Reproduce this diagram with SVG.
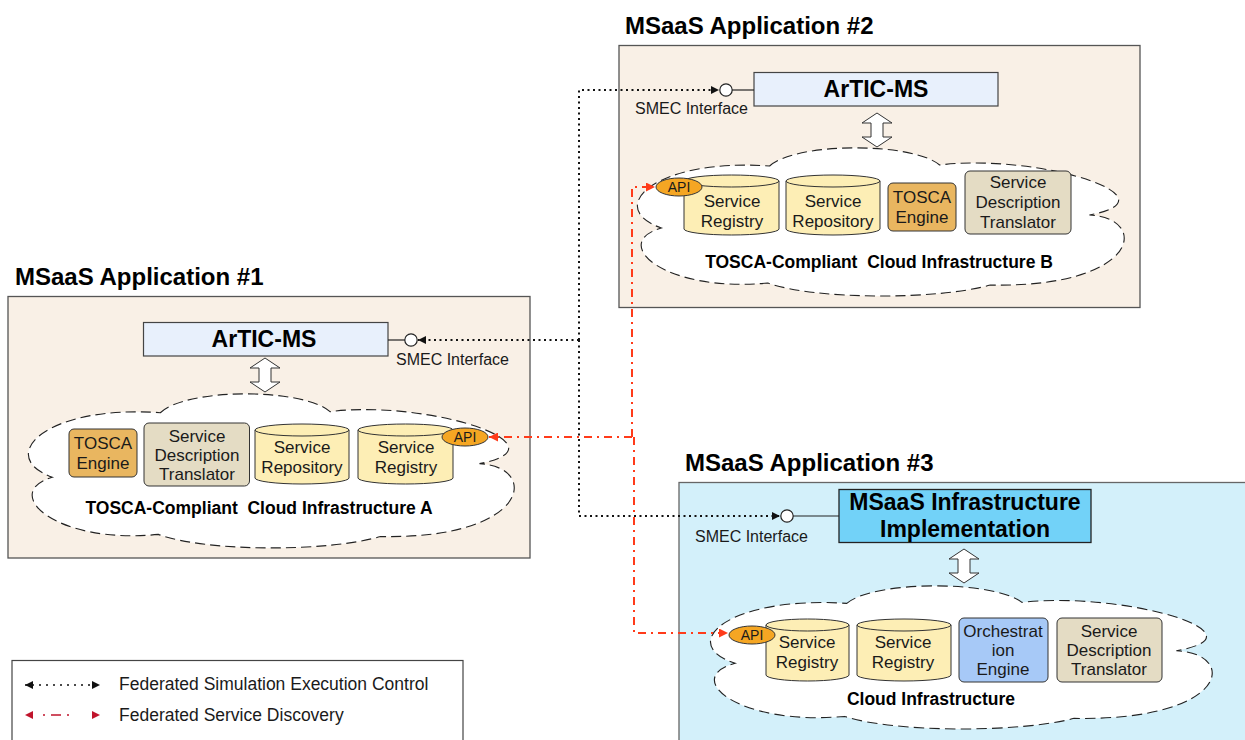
<svg xmlns="http://www.w3.org/2000/svg" width="1245" height="740" viewBox="0 0 1245 740">
<style>
text{font-family:"Liberation Sans",Arial,Helvetica,sans-serif;fill:#1a1a1a}
.title{font-size:24px;font-weight:bold;fill:#000}
.frameA{fill:#f9f0e6;stroke:#555;stroke-width:1.3}
.frameC{fill:#d3f0fa;stroke:#666;stroke-width:1.3}
.cloud{fill:#fff;stroke:#222;stroke-width:1.1;stroke-dasharray:10 5}
.cyl{fill:#fdeeb5;stroke:#333;stroke-width:1}
.tosca{fill:#e9b660;stroke:#333;stroke-width:1}
.sdt{fill:#e4dcc4;stroke:#333;stroke-width:1}
.orch{fill:#a7c9f7;stroke:#333;stroke-width:1}
.api{fill:#f5a623;stroke:#333;stroke-width:1}
.artic{fill:#e8f0fc;stroke:#444;stroke-width:1.2}
.infra{fill:#72d2f8;stroke:#222;stroke-width:1.3}
.lbl{font-size:17px;text-anchor:middle}
.big{font-size:23px;font-weight:bold;text-anchor:middle;fill:#000}
.cl{font-size:17.5px;font-weight:bold;text-anchor:middle;white-space:pre;fill:#000}
.smec{font-size:16px}
.apit{font-size:14px;text-anchor:middle}
.circ{fill:#fff;stroke:#222;stroke-width:1.2}
.stub{stroke:#222;stroke-width:1.2;fill:none}
.darr{fill:#fff;stroke:#333;stroke-width:1}
.blk{fill:none;stroke:#111;stroke-width:2;stroke-dasharray:2 3.5}
.red{fill:none;stroke:#ff3b1a;stroke-width:2;stroke-dasharray:8 5 2 5}
.leg{font-size:17.5px}
</style>
<defs>
<marker id="ab" viewBox="0 0 10 10" refX="10" refY="5" markerWidth="11" markerHeight="8" markerUnits="userSpaceOnUse" orient="auto"><path d="M0,0 L10,5 L0,10 Z" fill="#111"/></marker>
<marker id="ar" viewBox="0 0 10 10" refX="10" refY="5" markerWidth="11" markerHeight="9" markerUnits="userSpaceOnUse" orient="auto"><path d="M0,0 L10,5 L0,10 Z" fill="#ff3b1a"/></marker>
<marker id="lb" viewBox="0 0 10 10" refX="10" refY="5" markerWidth="11" markerHeight="8" markerUnits="userSpaceOnUse" orient="auto-start-reverse"><path d="M0,0 L10,5 L0,10 Z" fill="#111"/></marker>
<marker id="lr" viewBox="0 0 10 10" refX="10" refY="5" markerWidth="13" markerHeight="8" markerUnits="userSpaceOnUse" orient="auto-start-reverse"><path d="M0,0 L10,5 L0,10 Z" fill="#c0142c"/></marker>
<path id="cloudshape" d="M134,18 C160,-6 275,-6 302,17 C400,5 540,50 450,67 C510,70 500,140 352,137 C300,152 180,152 132,135 C30,145 -25,95 27,80 C-30,60 20,10 134,18 Z"/>
<path id="dbl" d="M0,0 L15,10 L6,10 L6,24 L15,24 L0,34 L-15,24 L-6,24 L-6,10 L-15,10 Z"/>
</defs>

<rect width="1245" height="740" fill="#fff"/>

<!-- Application #2 -->
<g id="app2">
<text class="title" x="625" y="34">MSaaS Application #2</text>
<rect class="frameA" x="619" y="45.5" width="521" height="262"/>
<g id="app2-cloud"><use href="#cloudshape" class="cloud" transform="translate(634,148) scale(1.012,1)" vector-effect="non-scaling-stroke"/>
<text class="cl" x="879" y="268">TOSCA-Compliant  Cloud Infrastructure B</text></g>
<g id="app2-artic"><rect class="artic" x="754" y="72.5" width="244" height="33.5"/><text class="big" x="876" y="97">ArTIC-MS</text></g>
<g id="app2-smec"><line class="stub" x1="732" y1="90" x2="754" y2="90"/><circle class="circ" cx="726" cy="90" r="6.2"/><text class="smec" x="635" y="114">SMEC Interface</text></g>
<use href="#dbl" class="darr" x="877" y="113"/>
<g id="app2-registry"><path class="cyl" d="M684,181 V229 A47.5,6 0 0 0 779,229 V181 Z"/><ellipse class="cyl" cx="731.5" cy="181" rx="47.5" ry="6"/>
<text class="lbl" x="732" y="207">Service</text><text class="lbl" x="732" y="227">Registry</text></g>
<g id="app2-api"><ellipse class="api" cx="679" cy="187" rx="23" ry="9"/><text class="apit" x="679" y="192">API</text></g>
<g id="app2-repository"><path class="cyl" d="M786,181 V229 A47,6 0 0 0 880,229 V181 Z"/><ellipse class="cyl" cx="833" cy="181" rx="47" ry="6"/>
<text class="lbl" x="833" y="207">Service</text><text class="lbl" x="833" y="227">Repository</text></g>
<g id="app2-tosca"><rect class="tosca" x="888" y="183" width="68" height="48" rx="5"/><text class="lbl" x="922" y="203">TOSCA</text><text class="lbl" x="922" y="223">Engine</text></g>
<g id="app2-sdt"><rect class="sdt" x="965" y="171" width="106" height="63" rx="5"/><text class="lbl" x="1018" y="188">Service</text><text class="lbl" x="1018" y="208">Description</text><text class="lbl" x="1018" y="228">Translator</text></g>
</g>

<!-- Application #1 -->
<g id="app1">
<text class="title" x="15" y="285">MSaaS Application #1</text>
<rect class="frameA" x="8" y="296.5" width="522" height="261.5"/>
<g id="app1-cloud"><use href="#cloudshape" class="cloud" transform="translate(25,394) scale(1.01,1.04)" vector-effect="non-scaling-stroke"/>
<text class="cl" x="259" y="514">TOSCA-Compliant  Cloud Infrastructure A</text></g>
<g id="app1-artic"><rect class="artic" x="143.5" y="322.5" width="244.5" height="33.5"/><text class="big" x="264" y="347">ArTIC-MS</text></g>
<g id="app1-smec"><line class="stub" x1="388" y1="340" x2="405" y2="340"/><circle class="circ" cx="411" cy="340" r="6.2"/><text class="smec" x="396" y="365">SMEC Interface</text></g>
<use href="#dbl" class="darr" x="265" y="358"/>
<g id="app1-tosca"><rect class="tosca" x="69" y="429" width="68" height="48" rx="5"/><text class="lbl" x="103" y="449">TOSCA</text><text class="lbl" x="103" y="469">Engine</text></g>
<g id="app1-sdt"><rect class="sdt" x="144" y="423" width="105.5" height="63" rx="5"/><text class="lbl" x="197" y="442">Service</text><text class="lbl" x="197" y="461">Description</text><text class="lbl" x="197" y="480">Translator</text></g>
<g id="app1-repository"><path class="cyl" d="M255,430 V478 A47,6 0 0 0 349,478 V430 Z"/><ellipse class="cyl" cx="302" cy="430" rx="47" ry="6"/>
<text class="lbl" x="302" y="453">Service</text><text class="lbl" x="302" y="473">Repository</text></g>
<g id="app1-registry"><path class="cyl" d="M358,430 V478 A47.5,6 0 0 0 453,478 V430 Z"/><ellipse class="cyl" cx="405.5" cy="430" rx="47.5" ry="6"/>
<text class="lbl" x="406" y="453">Service</text><text class="lbl" x="406" y="473">Registry</text></g>
<g id="app1-api"><ellipse class="api" cx="465" cy="437" rx="23" ry="9"/><text class="apit" x="465" y="442">API</text></g>
</g>

<!-- Application #3 -->
<g id="app3">
<text class="title" x="685" y="471">MSaaS Application #3</text>
<rect class="frameC" x="679" y="482.5" width="600" height="300"/>
<g id="app3-cloud"><use href="#cloudshape" class="cloud" transform="translate(707,586) scale(1.043,0.966)" vector-effect="non-scaling-stroke"/>
<text class="cl" x="931" y="705">Cloud Infrastructure</text></g>
<g id="app3-infra"><rect class="infra" x="839" y="489.5" width="252" height="53"/><text class="big" x="965" y="510">MSaaS Infrastructure</text><text class="big" x="965" y="537">Implementation</text></g>
<g id="app3-smec"><line class="stub" x1="793" y1="516" x2="839" y2="516"/><circle class="circ" cx="787" cy="516" r="6.2"/><text class="smec" x="695" y="542">SMEC Interface</text></g>
<use href="#dbl" class="darr" x="964" y="549"/>
<g id="app3-registry1"><path class="cyl" d="M766,625 V675 A41.5,6 0 0 0 849,675 V625 Z"/><ellipse class="cyl" cx="807.5" cy="625" rx="41.5" ry="6"/>
<text class="lbl" x="807" y="648">Service</text><text class="lbl" x="807" y="668">Registry</text></g>
<g id="app3-api"><ellipse class="api" cx="752" cy="635" rx="23" ry="9"/><text class="apit" x="752" y="640">API</text></g>
<g id="app3-registry2"><path class="cyl" d="M857,625 V675 A47,6 0 0 0 951,675 V625 Z"/><ellipse class="cyl" cx="904" cy="625" rx="47" ry="6"/>
<text class="lbl" x="903" y="648">Service</text><text class="lbl" x="903" y="668">Registry</text></g>
<g id="app3-orch"><rect class="orch" x="959" y="618" width="89" height="64" rx="5"/><text class="lbl" x="1003" y="637">Orchestrat</text><text class="lbl" x="1003" y="656">ion</text><text class="lbl" x="1003" y="675">Engine</text></g>
<g id="app3-sdt"><rect class="sdt" x="1057" y="618" width="105" height="64" rx="5"/><text class="lbl" x="1109" y="637">Service</text><text class="lbl" x="1109" y="656">Description</text><text class="lbl" x="1109" y="675">Translator</text></g>
</g>

<!-- Connectors -->
<g id="connectors">
<path class="blk" d="M579,340 H418" marker-end="url(#ab)"/>
<path class="blk" d="M579,340 V90 H719" marker-end="url(#ab)"/>
<path class="blk" d="M579,340 V516 H780" marker-end="url(#ab)"/>
<path class="red" d="M632,437 H489" marker-end="url(#ar)"/>
<path class="red" d="M632,437 V187 H655" marker-end="url(#ar)"/>
<path class="red" d="M634,437 V633 H728" marker-end="url(#ar)"/>
</g>

<!-- Legend -->
<g id="legend">
<rect x="12" y="660.5" width="451" height="100" fill="#fff" stroke="#444" stroke-width="1.2"/>
<path d="M25,685 H100" fill="none" stroke="#111" stroke-width="1.5" stroke-dasharray="2 5" marker-start="url(#lb)" marker-end="url(#lb)"/>
<text class="leg" x="119" y="690">Federated Simulation Execution Control</text>
<path d="M25,715 H100" fill="none" stroke="#c0142c" stroke-width="1.5" stroke-dasharray="0 18 2 6 10 6 2 40" marker-start="url(#lr)" marker-end="url(#lr)"/>
<text class="leg" x="119" y="721">Federated Service Discovery</text>
</g>
</svg>
